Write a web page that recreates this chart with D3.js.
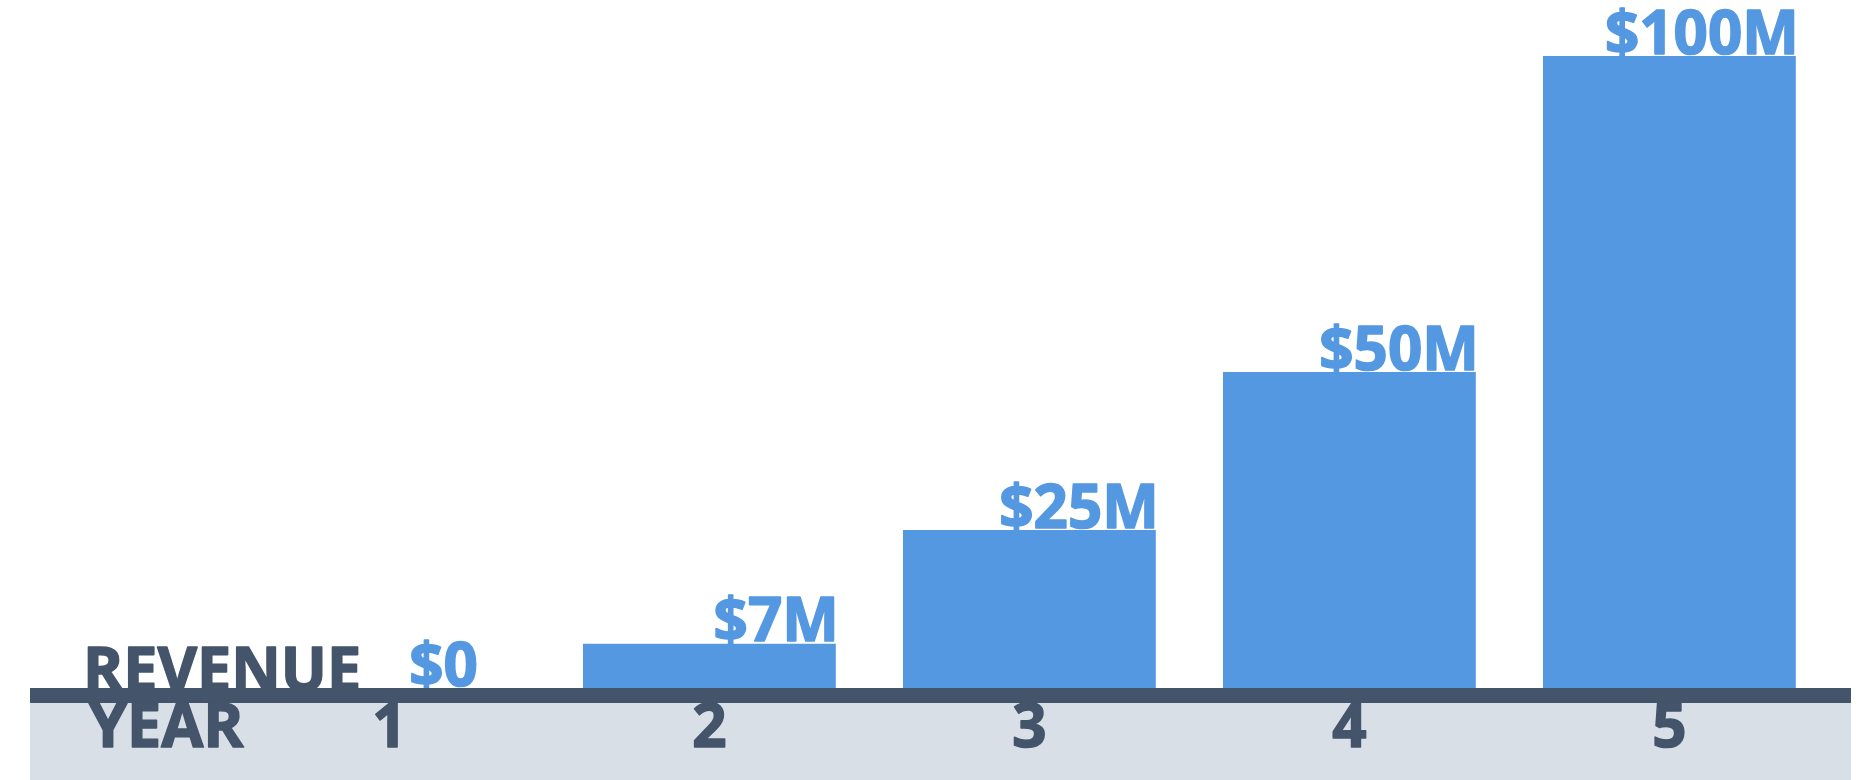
<!DOCTYPE html>
<html>
<head>
<meta charset="utf-8">
<script src="https://cdn.jsdelivr.net/npm/d3@7"></script>
<style>
  html, body { margin: 0; padding: 0; background: #fff; }
  svg { display: block; }
  text { font-family: "Open Sans", sans-serif; font-weight: 700; }
</style>
</head>
<body>
<svg id="chart"></svg>
<script>
const years = ['1', '2', '3', '4', '5']
const revenue = [0, 7, 25, 50, 100]
const valueLabels = ['$0', '$7M', '$25M', '$50M', '$100M']
const rowLabels = ['REVENUE', 'YEAR']

const W = 1866, H = 780
const baseY = 688
const lineH = 15
const blue = '#5598e2'
const slate = '#44546a'

const svg = d3.select('#chart').attr('width', W).attr('height', H)

const x = d3.scaleBand().domain(years).range([229.4, 1829.4])
	.paddingInner(0.21).paddingOuter(0.105)
const y = d3.scaleLinear().domain([0, 100]).range([baseY, 56])

const data = years.map((yr, i) => ({ year: yr, value: revenue[i], label: valueLabels[i] }))

// heavier than plain bold, like the original artwork
const heavy = (sel, col) => sel.style('fill', col).style('stroke', col)
	.style('stroke-width', 1.6).style('stroke-linejoin', 'round')

// light band under the axis
svg.append('rect')
	.attr('x', 30).attr('y', baseY + lineH)
	.attr('width', 1821).attr('height', H - baseY - lineH)
	.style('fill', '#d9dfe6')

// value labels (sit just above the bars, right aligned)
svg.selectAll('text.val').data(data)
	.enter().append('text')
	.attr('class', 'val')
	.attr('x', d => x(d.year) + x.bandwidth() + (d.value === 0 ? -38 : 3))
	.attr('y', d => y(d.value) - 2.5)
	.attr('text-anchor', 'end')
	.style('font-size', '60px')
	.call(heavy, blue)
	.text(d => d.label)

svg.selectAll('rect.bar').data(data.filter(d => d.value > 0))
	.enter().append('rect')
	.attr('class', 'bar')
	.style('fill', blue)
	.attr('x', d => x(d.year))
	.attr('width', x.bandwidth())
	.attr('y', d => y(d.value))
	.attr('height', d => baseY - y(d.value))

// thick base line
svg.append('rect')
	.attr('x', 30).attr('y', baseY)
	.attr('width', 1821).attr('height', lineH)
	.style('fill', slate)

// year ticks
const xAxis = svg.append('g')
	.attr('transform', `translate(0, ${baseY + lineH})`)
	.call(d3.axisBottom(x).tickSize(0).tickPadding(0))
xAxis.select('.domain').remove()
xAxis.selectAll('text')
	.attr('dy', null)
	.attr('y', 44)
	.style('font-size', '60px')
	.style('font-family', '"Open Sans", sans-serif')
	.style('font-weight', 700)
	.call(heavy, slate)

svg.append('text')
	.attr('x', 83).attr('y', 691)
	.style('font-size', '61px')
	.call(heavy, slate)
	.text(rowLabels[0])

svg.append('text')
	.attr('x', 89).attr('y', 747)
	.style('font-size', '61px')
	.call(heavy, slate)
	.text(rowLabels[1])
</script>
</body>
</html>
